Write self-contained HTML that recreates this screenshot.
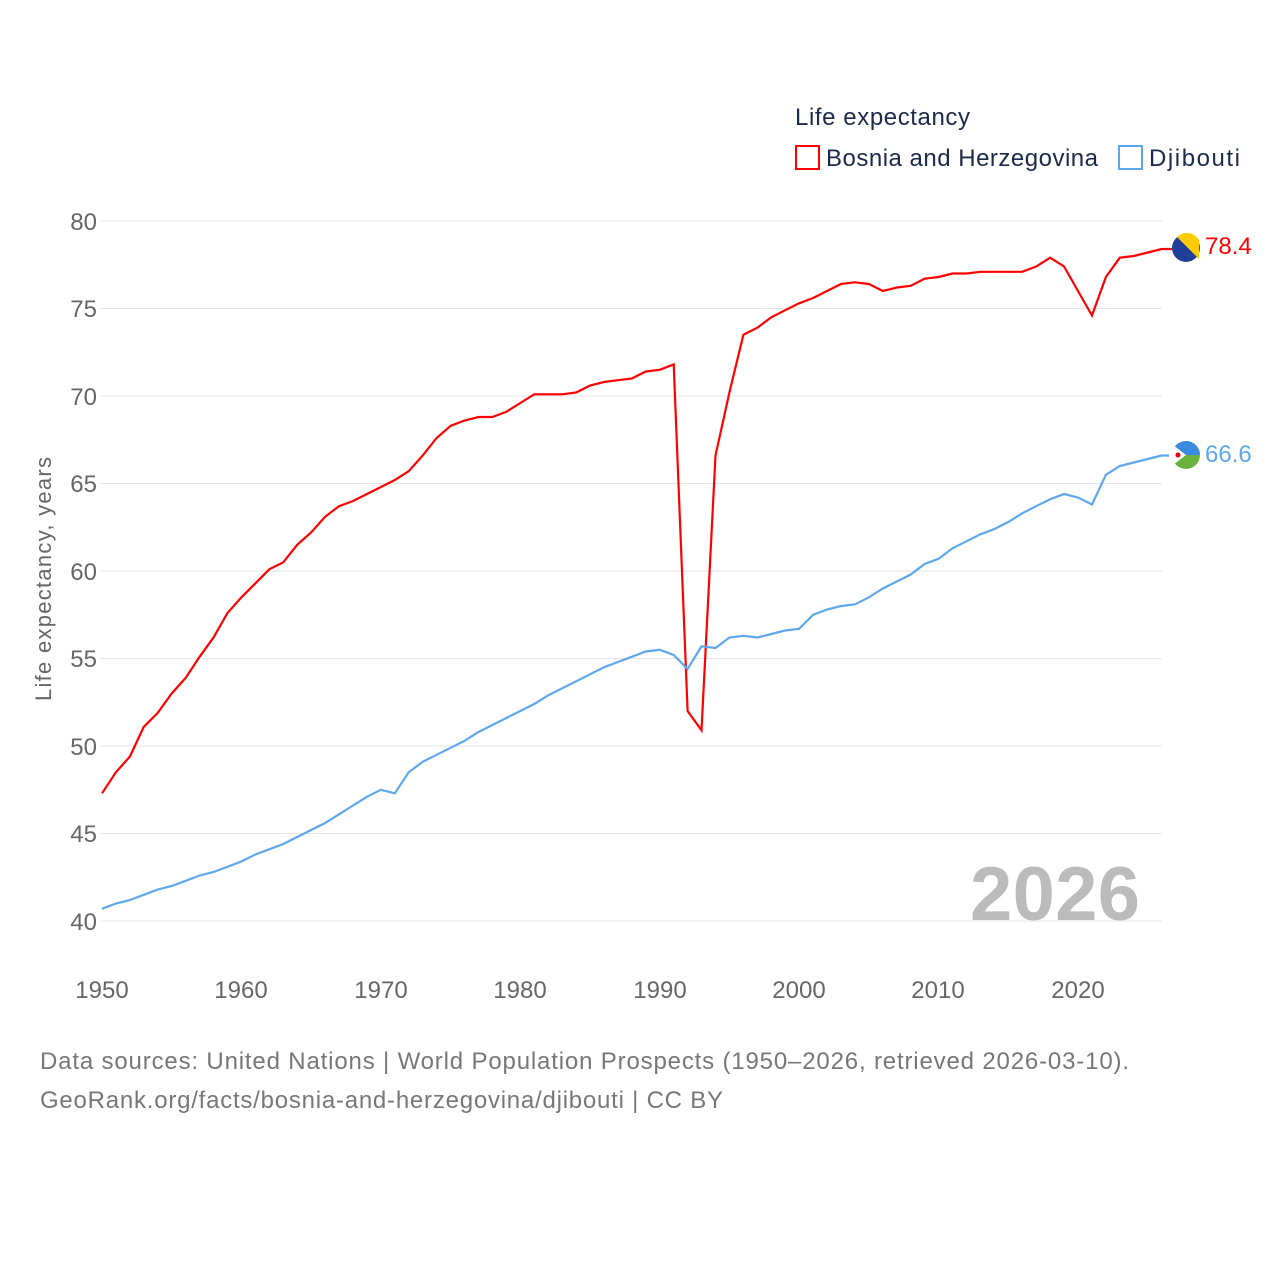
<!DOCTYPE html>
<html><head><meta charset="utf-8"><style>
html,body{margin:0;padding:0;background:#fff;width:1280px;height:1280px;overflow:hidden}
text{font-family:"Liberation Sans",sans-serif}
</style></head><body>
<svg id="s" width="1280" height="1280" xmlns="http://www.w3.org/2000/svg">
<g stroke="#e6e6e6" stroke-width="1">
<line x1="100" x2="1162" y1="221" y2="221"/><line x1="100" x2="1162" y1="308.5" y2="308.5"/>
<line x1="100" x2="1162" y1="396" y2="396"/><line x1="100" x2="1162" y1="483.5" y2="483.5"/>
<line x1="100" x2="1162" y1="571" y2="571"/><line x1="100" x2="1162" y1="658.5" y2="658.5"/>
<line x1="100" x2="1162" y1="746" y2="746"/><line x1="100" x2="1162" y1="833.5" y2="833.5"/>
<line x1="100" x2="1162" y1="921" y2="921"/>
</g>
<g fill="#666" font-size="24" text-anchor="end">
<text x="97" y="230">80</text><text x="97" y="317">75</text><text x="97" y="405">70</text>
<text x="97" y="492">65</text><text x="97" y="580">60</text><text x="97" y="667">55</text>
<text x="97" y="755">50</text><text x="97" y="842">45</text><text x="97" y="930">40</text>
</g>
<g fill="#666" font-size="24" text-anchor="middle">
<text x="102" y="998">1950</text><text x="241" y="998">1960</text><text x="381" y="998">1970</text>
<text x="520" y="998">1980</text><text x="660" y="998">1990</text><text x="799" y="998">2000</text>
<text x="938" y="998">2010</text><text x="1078" y="998">2020</text>
</g>
<text transform="translate(51,579) rotate(-90)" fill="#666" font-size="22" text-anchor="middle" textLength="244">Life expectancy, years</text>
<text x="1140" y="920" fill="#bbb" font-size="76" font-weight="bold" text-anchor="end" textLength="170">2026</text>
<text x="795" y="125" fill="#1b2a4a" font-size="24" textLength="175">Life expectancy</text>
<rect x="796" y="146" width="23" height="23" fill="none" stroke="#f00" stroke-width="2"/>
<text x="826" y="166" fill="#1b2a4a" font-size="24" textLength="272">Bosnia and Herzegovina</text>
<rect x="1119" y="146" width="23" height="23" fill="none" stroke="#5fa7ec" stroke-width="2"/>
<text x="1149" y="166" fill="#1b2a4a" font-size="24" textLength="91">Djibouti</text>
<polyline id="r" fill="none" stroke="#f00" stroke-width="2.2"/>
<polyline id="b" fill="none" stroke="#5fa7ec" stroke-width="2.2"/>
<circle cx="1186" cy="248" r="14" fill="#1f3f99"/>
<path d="M1177,237 L1199,259 L1199,240 A14,14 0 0 0 1177,237Z" fill="#fecb00"/>
<circle cx="1186" cy="455" r="14" fill="#6ab23e"/>
<path d="M1172,455 A14,14 0 0 1 1200,455Z" fill="#3a8be0"/>
<path d="M1173,445 L1186,455 L1173,465 A14,14 0 0 1 1173,445Z" fill="#fff"/>
<circle cx="1178" cy="455" r="2.5" fill="#d00"/>
<text x="1205" y="254" fill="#f00" font-size="24">78.4</text>
<text x="1205" y="462" fill="#5fa7ec" font-size="24">66.6</text>
<text x="40" y="1069" fill="#777" font-size="24" textLength="1089">Data sources: United Nations | World Population Prospects (1950–2026, retrieved 2026-03-10).</text>
<text x="40" y="1108" fill="#777" font-size="24" textLength="683">GeoRank.org/facts/bosnia-and-herzegovina/djibouti | CC BY</text>
</svg>
<script>
var R=[47.3,48.5,49.4,51.1,51.9,53.0,53.9,55.1,56.2,57.6,58.5,59.3,60.1,60.5,61.5,62.2,63.1,63.7,64.0,64.4,64.8,65.2,65.7,66.6,67.6,68.3,68.6,68.8,68.8,69.1,69.6,70.1,70.1,70.1,70.2,70.6,70.8,70.9,71.0,71.4,71.5,71.8,52.0,50.9,66.6,70.2,73.5,73.9,74.5,74.9,75.3,75.6,76.0,76.4,76.5,76.4,76.0,76.2,76.3,76.7,76.8,77.0,77.0,77.1,77.1,77.1,77.1,77.4,77.9,77.4,76.0,74.6,76.8,77.9,78.0,78.2,78.4];
var B=[40.7,41.0,41.2,41.5,41.8,42.0,42.3,42.6,42.8,43.1,43.4,43.8,44.1,44.4,44.8,45.2,45.6,46.1,46.6,47.1,47.5,47.3,48.5,49.1,49.5,49.9,50.3,50.8,51.2,51.6,52.0,52.4,52.9,53.3,53.7,54.1,54.5,54.8,55.1,55.4,55.5,55.2,54.4,55.7,55.6,56.2,56.3,56.2,56.4,56.6,56.7,57.5,57.8,58.0,58.1,58.5,59.0,59.4,59.8,60.4,60.7,61.3,61.7,62.1,62.4,62.8,63.3,63.7,64.1,64.4,64.2,63.8,65.5,66.0,66.2,66.4,66.6];
function p(a){return a.map(function(v,i){return (102+i*13.943).toFixed(1)+","+(221+(80-v)*17.5).toFixed(1)}).join(" ")}
document.getElementById("r").setAttribute("points",p(R)+" 1172,"+(221+1.6*17.5));
document.getElementById("b").setAttribute("points",p(B)+" 1172,"+(221+13.4*17.5));
</script>
</body></html>
